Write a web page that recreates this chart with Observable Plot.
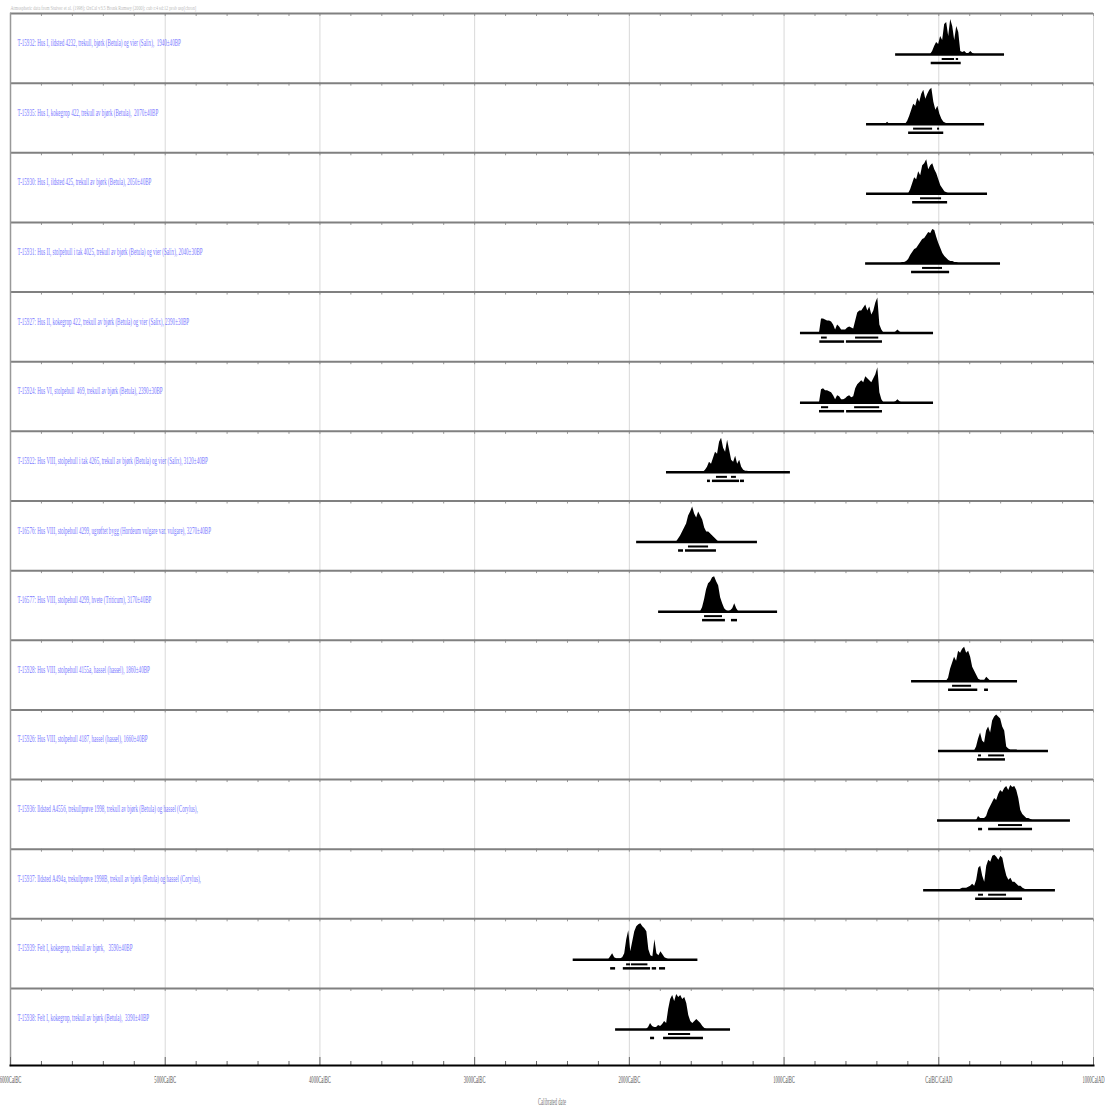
<!DOCTYPE html>
<html><head><meta charset="utf-8">
<script src="https://cdn.jsdelivr.net/npm/d3@7"></script>
<script src="https://cdn.jsdelivr.net/npm/@observablehq/plot@0.6"></script>
<style>body{margin:0;background:#fff}</style>
</head><body><div id="chart"></div>
<script>
const header = "Atmospheric data from Stuiver et al. (1998); OxCal v3.5 Bronk Ramsey (2000); cub r:4 sd:12 prob usp[chron]";
const xLabel = "Calibrated date";
const tickYears = [-6000, -5000, -4000, -3000, -2000, -1000, 0, 1000];
const tickLabels = ["6000CalBC", "5000CalBC", "4000CalBC", "3000CalBC", "2000CalBC", "1000CalBC", "CalBC/CalAD", "1000CalAD"];

const labels = [
  "T-15932: Hus I, ildsted 4232, trekull, bjørk (Betula) og vier (Salix),  1940±40BP",
  "T-15935: Hus I, kokegrop 422, trekull av bjørk (Betula),  2070±40BP",
  "T-15930: Hus I, ildsted 425, trekull av bjørk (Betula), 2050±40BP",
  "T-15931: Hus II, stolpehull i tak 4025, trekull av bjørk (Betula) og vier (Salix), 2040±30BP",
  "T-15927: Hus II, kokegrop 422, trekull av bjørk (Betula) og vier (Salix), 2390±30BP",
  "T-15924: Hus VI, stolpehull  469, trekull av bjørk (Betula), 2390±30BP",
  "T-15922: Hus VIII, stolpehull i tak 4265, trekull av bjørk (Betula) og vier (Salix), 3120±40BP",
  "T-16576: Hus VIII, stolpehull 4299, ugrøftet bygg (Hordeum vulgare var. vulgare), 3270±40BP",
  "T-16577: Hus VIII, stolpehull 4299, hvete (Triticum), 3170±40BP",
  "T-15928: Hus VIII, stolpehull 4155a, hassel (hassel), 1860±40BP",
  "T-15926: Hus VIII, stolpehull 4187, hassel (hassel), 1660±40BP",
  "T-15936: Ildsted A4556, trekullprøve 1998, trekull av bjørk (Betula) og hassel (Corylus),",
  "T-15937: Ildsted A494a, trekullprøve 1998B, trekull av bjørk (Betula) og hassel (Corylus),",
  "T-15939: Felt I, kokegrop, trekull av bjørk,   3590±40BP",
  "T-15938: Felt I, kokegrop, trekull av bjørk (Betula),  3390±40BP"
];

// full extent of the calibrated range line (years, negative = BC)
const lineRanges = [
  [-279, 425], [-467, 296], [-467, 315], [-473, 399], [-894, -34],
  [-894, -34], [-1760, -959], [-1953, -1172], [-1811, -1042], [-176, 509],
  [-2, 709], [-8, 851], [-98, 754], [-2363, -1557], [-2089, -1346]
];

// 68.2% ranges
const sigma1 = [
  [[22, 102], [113, 128]],
  [[-163, -40], [-8, 5]],
  [[-118, 18]],
  [[-105, 24]],
  [[-758, -721], [-538, -388]],
  [[-758, -712], [-544, -382]],
  [[-1437, -1366], [-1340, -1308]],
  [[-1618, -1488]],
  [[-1514, -1398]],
  [[89, 212]],
  [[257, 276], [322, 425]],
  [[386, 541]],
  [[257, 289], [322, 438]],
  [[-2018, -1992], [-1986, -1880]],
  [[-1747, -1604]]
];

// 95.4% ranges
const sigma2 = [
  [[-49, 145]],
  [[-195, 32]],
  [[-169, 57]],
  [[-176, 70]],
  [[-769, -609], [-597, -364]],
  [[-771, -609], [-596, -364]],
  [[-1495, -1476], [-1463, -1288], [-1282, -1256]],
  [[-1682, -1650], [-1637, -1437]],
  [[-1527, -1379], [-1340, -1301]],
  [[63, 252], [296, 321]],
  [[250, 431]],
  [[257, 283], [322, 606]],
  [[238, 541]],
  [[-2121, -2089], [-2039, -1863], [-1852, -1824], [-1805, -1766]],
  [[-1863, -1837], [-1779, -1521]]
];

// probability distributions: first year and step (years), relative probability values
const distStep = 13;
const distStart = [-53, -344, -195, -247, -771, -771, -1521, -1695, -1540, 50, 231, 244, 128, -2134, -1889];
const distProb = [
  [0, 3, 8, 12, 10, 18, 14, 30, 32, 18, 35, 28, 14, 28, 22, 3, 2, 3, 1, 1, 3, 1, 0],
  [0, 2, 0, 0, 0, 0, 0, 0, 0, 0, 0, 3, 8, 14, 20, 18, 26, 22, 30, 34, 25, 30, 34, 36, 22, 14, 18, 10, 5, 2, 1, 0],
  [0, 4, 10, 16, 14, 22, 18, 28, 30, 34, 24, 28, 30, 24, 20, 14, 8, 5, 2, 1, 0],
  [0, 1, 1, 2, 4, 8, 11, 14, 15, 18, 21, 24, 25, 28, 31, 30, 34, 33, 26, 20, 15, 10, 7, 5, 3, 2, 2, 1, 1, 0],
  [0, 14, 14, 13, 12, 12, 11, 8, 3, 8, 6, 3, 3, 3, 5, 6, 5, 4, 12, 20, 22, 22, 25, 28, 22, 26, 18, 22, 30, 35, 8, 3, 0, 0, 0, 0, 0, 0, 1, 3, 1, 0],
  [0, 13, 14, 12, 12, 11, 10, 7, 3, 7, 6, 3, 3, 4, 6, 7, 5, 6, 14, 18, 20, 22, 20, 26, 24, 22, 20, 24, 28, 35, 10, 3, 0, 0, 0, 0, 0, 0, 1, 3, 1, 0],
  [0, 2, 5, 10, 8, 14, 20, 18, 30, 34, 24, 20, 32, 22, 12, 10, 16, 8, 12, 5, 2, 1, 1, 0],
  [0, 3, 6, 10, 14, 18, 26, 30, 35, 28, 24, 30, 26, 22, 14, 10, 10, 8, 6, 4, 2, 0],
  [0, 4, 12, 22, 28, 30, 34, 35, 30, 26, 14, 8, 3, 1, 0, 1, 3, 8, 3, 0],
  [0, 3, 12, 18, 24, 20, 30, 28, 32, 34, 28, 30, 24, 14, 10, 6, 2, 1, 1, 1, 4, 2, 0],
  [0, 4, 12, 18, 10, 8, 20, 24, 18, 30, 34, 36, 34, 32, 24, 20, 4, 2, 1, 1, 1, 1, 0],
  [0, 4, 2, 2, 2, 4, 10, 14, 18, 22, 20, 26, 30, 28, 32, 34, 30, 35, 33, 34, 30, 22, 10, 6, 4, 2, 2, 1, 0],
  [0, 1, 2, 2, 2, 3, 4, 6, 4, 10, 22, 24, 14, 8, 24, 30, 28, 34, 35, 33, 30, 34, 32, 22, 14, 10, 12, 8, 8, 6, 4, 4, 2, 1, 0],
  [0, 3, 6, 2, 1, 1, 1, 2, 6, 20, 29, 8, 18, 28, 33, 35, 36, 33, 31, 28, 10, 4, 3, 20, 6, 4, 8, 5, 2, 1, 0],
  [0, 2, 6, 3, 2, 2, 4, 3, 5, 8, 6, 20, 30, 34, 28, 35, 32, 34, 30, 32, 26, 14, 8, 6, 8, 10, 8, 6, 3, 1, 0]
];

// ---- layout ----
const PX = 1 / 69.64;               // one pixel in row units
const NROWS = labels.length;
const Y_BOTTOM = 15.106;
const base = r => r + 41 * PX;

const points = distProb.flatMap((ps, r) => ps.map((p, j) => ({row: r, year: distStart[r] + j * distStep, p})));
const s1 = sigma1.flatMap((rs, r) => rs.map(([a, b]) => ({row: r, a, b})));
const s2 = sigma2.flatMap((rs, r) => rs.map(([a, b]) => ({row: r, a, b})));
const rows = d3.range(NROWS);
const minorYears = d3.range(-6000, 1001, 200);
const rowTicks = rows.flatMap(r => minorYears.map(year => ({row: r, year})));

const chart = Plot.plot({
  width: 1105, height: 1108,
  marginLeft: 10, marginRight: 12, marginTop: 13, marginBottom: 43,
  x: {domain: [-6000, 1000], axis: null},
  y: {domain: [Y_BOTTOM, 0], axis: null},
  style: {background: "#fff", fontFamily: "Liberation Serif"},
  marks: [
    Plot.ruleX(tickYears.slice(1, -1), {stroke: "#d9d9d9", strokeWidth: 1}),
    Plot.frame({anchor: "right", stroke: "#d9d9d9"}),
    Plot.ruleX(rowTicks, {x: "year", y1: "row", y2: d => d.row + 3 * PX, stroke: "#999", strokeWidth: 1}),
    Plot.ruleY(rows, {y: d => d, stroke: "#808080", strokeWidth: 2}),
    Plot.frame({anchor: "left", stroke: "#999", strokeWidth: 1.5}),
    Plot.ruleX(minorYears, {x: d => d, y1: d => Y_BOTTOM - (d % 1000 === 0 ? 8 : 4) * PX, y2: Y_BOTTOM, stroke: "#666", strokeWidth: 1}),
    Plot.frame({anchor: "bottom", stroke: "#000", strokeWidth: 2}),
    Plot.area(points, {x1: "year", y1: d => base(d.row), y2: d => base(d.row) - d.p * PX, z: "row", fill: "#000"}),
    Plot.ruleY(lineRanges, {x1: d => d[0], x2: d => d[1], y: (d, i) => base(i), stroke: "#000", strokeWidth: 2.5}),
    Plot.ruleY(s1, {x1: "a", x2: "b", y: d => base(d.row) + 4.5 * PX, stroke: "#000", strokeWidth: 2}),
    Plot.ruleY(s2, {x1: "a", x2: "b", y: d => base(d.row) + 8.5 * PX, stroke: "#000", strokeWidth: 2.5}),
    Plot.text(labels, {frameAnchor: "left", y: (d, i) => i + 29 * PX, dx: 7, text: d => d, fill: "#7777ff", fontSize: 11, textAnchor: "start", className: "squeeze"}),
    Plot.text([header], {frameAnchor: "top-left", dy: -8, text: d => d, fill: "#bbb", fontSize: 7, textAnchor: "start", className: "squeeze-wide"}),
    Plot.text(tickYears, {x: d => d, frameAnchor: "bottom", dy: 17, text: (d, i) => tickLabels[i], fill: "#555", fontSize: 10, className: "squeeze"}),
    Plot.text([xLabel], {frameAnchor: "bottom", dy: 39, text: d => d, fill: "#777", fontSize: 10, className: "squeeze"})
  ]
});
document.getElementById("chart").append(chart);
function squeeze(sel, k) {
  d3.select(chart).selectAll(sel).each(function () {
    const L = this.getComputedTextLength();
    this.setAttribute("textLength", L * k);
    this.setAttribute("lengthAdjust", "spacingAndGlyphs");
  });
}
squeeze(".squeeze text", 0.46);
squeeze(".squeeze-wide text", 0.6);
</script>
</body></html>
